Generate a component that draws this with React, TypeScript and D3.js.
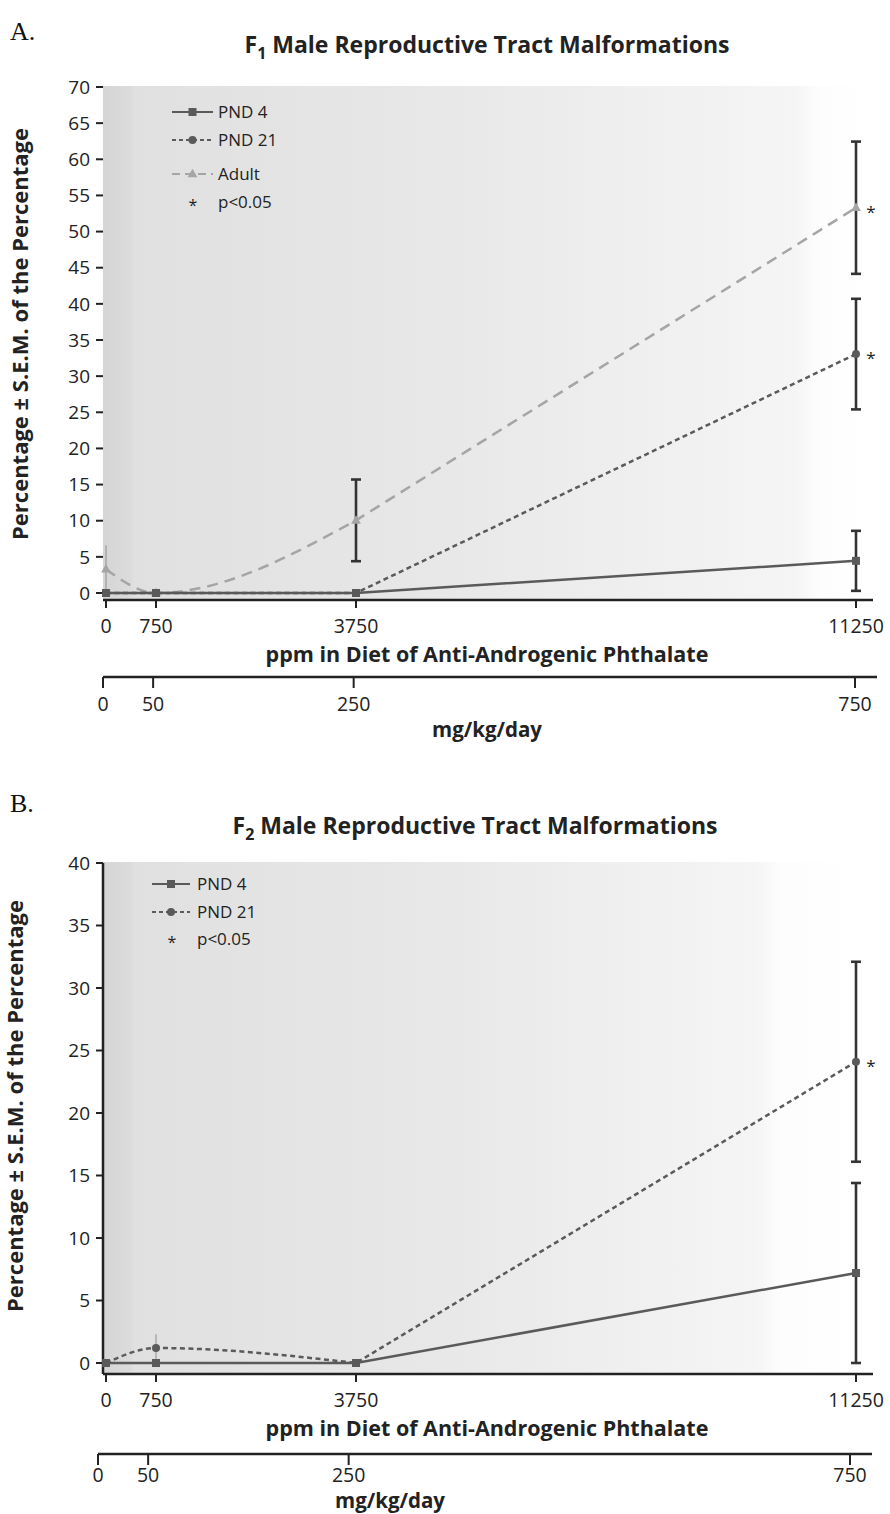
import React from "react"
import * as d3 from "d3"

// doses shared by both panels
const doses = [0, 750, 3750, 11250]
const doseLabels = ["0", "750", "3750", "11250"]
const mgDoses = [0, 50, 250, 750]
const mgLabels = ["0", "50", "250", "750"]

const f1Ticks = [0, 5, 10, 15, 20, 25, 30, 35, 40, 45, 50, 55, 60, 65, 70]
const f2Ticks = [0, 5, 10, 15, 20, 25, 30, 35, 40]

// F1 generation (percent, S.E.M.)
const f1Pnd4 = [0, 0, 0, 4.45]
const f1Pnd4Sem = [0, 0, 0, 4.15]
const f1Pnd4Sig = [false, false, false, false]
const f1Pnd21 = [0, 0, 0, 33.05]
const f1Pnd21Sem = [0, 0, 0, 7.65]
const f1Pnd21Sig = [false, false, false, true]
const f1Adult = [3.3, 0, 10.05, 53.3]
const f1AdultSem = [3.3, 0, 5.65, 9.15]
const f1AdultSig = [false, false, false, true]

// F2 generation
const f2Pnd4 = [0, 0, 0, 7.2]
const f2Pnd4Sem = [0, 0, 0, 7.2]
const f2Pnd4Sig = [false, false, false, false]
const f2Pnd21 = [0, 1.2, 0, 24.1]
const f2Pnd21Sem = [0, 1.1, 0, 8.0]
const f2Pnd21Sig = [false, false, false, true]

const FONT = "'Open Sans', 'Noto Sans', sans-serif"
const DARK = "#5a5a5a"
const LIGHT = "#a5a5a5"

type Kind = "pnd4" | "pnd21" | "adult"
type Series = {
  name: string
  kind: Kind
  values: number[]
  sem: number[]
  sig: boolean[]
  smooth: boolean
}

const look = {
  pnd4: { stroke: DARK, dash: undefined as string | undefined },
  pnd21: { stroke: DARK, dash: "5 3.5" },
  adult: { stroke: LIGHT, dash: "11 7" },
}

const Marker = ({ kind, cx, cy }: { kind: Kind; cx: number; cy: number }) => {
  if (kind === "pnd4")
    return <rect x={cx - 4} y={cy - 4} width={8} height={8} fill={DARK} />
  if (kind === "pnd21") return <circle cx={cx} cy={cy} r={4} fill={DARK} />
  const tri = d3.symbol(d3.symbolTriangle, 42)()
  return <path d={tri} transform={`translate(${cx},${cy + 0.5})`} fill={LIGHT} />
}

type PanelProps = {
  letter: string
  letterY: number
  sub: string
  titleX: number
  titleY: number
  yMax: number
  ticks: number[]
  yTop: number
  y0: number
  axisY: number
  tickLabelY: number
  xTitleY: number
  axis2Y: number
  tick2LabelY: number
  mgTitleX: number
  mgTitleY: number
  mgLeft: number
  mgRight: number
  yLabelX: number
  yLabelY: number
  yAxisLine: boolean
  gradEnd: number
  series: Series[]
  legend: { x0: number; x1: number; tx: number; ys: number[]; starX: number; starY: number }
  id: string
}

const Panel = (p: PanelProps) => {
  const x = d3.scaleLinear().domain([0, 11250]).range([106, 856])
  const xMg = d3.scaleLinear().domain([0, 750]).range([p.mgLeft, p.mgRight])
  const y = d3.scaleLinear().domain([0, p.yMax]).range([p.y0, p.yTop])
  const left = 103
  const right = 873

  // smoothed low-dose part (like the spreadsheet's smoothed line), straight to the top dose
  const pathFor = (s: Series) => {
    const pts: [number, number][] = s.values.map((v, i) => [x(doses[i]), y(v)])
    if (!s.smooth) return d3.line()(pts) || ""
    const head = d3.line().curve(d3.curveMonotoneX)(pts.slice(0, 3)) || ""
    const last = pts[pts.length - 1]
    return `${head}L${last[0]},${last[1]}`
  }

  return (
    <g>
      <defs>
        <linearGradient id={p.id} x1={left} x2={right} y1={0} y2={0} gradientUnits="userSpaceOnUse">
          <stop offset={0} stopColor="#d5d5d5" />
          <stop offset={0.035} stopColor="#dbdbdb" />
          <stop offset={0.04} stopColor="#e0e0e0" />
          <stop offset={0.45} stopColor="#e8e8e8" />
          <stop offset={p.gradEnd - 0.03} stopColor="#f5f5f5" />
          <stop offset={p.gradEnd} stopColor="#fdfdfd" />
          <stop offset={1} stopColor="#ffffff" />
        </linearGradient>
      </defs>
      <text x={10} y={p.letterY} fontFamily="'Liberation Serif', serif" fontSize={26} fill="#111">
        {p.letter}
      </text>
      <text x={p.titleX} y={p.titleY} textAnchor="middle" fontFamily={FONT} fontWeight={700} fontSize={23} fill="#222">
        F<tspan fontSize={16} dy={6}>{p.sub}</tspan>
        <tspan dy={-6}> Male Reproductive Tract Malformations</tspan>
      </text>

      <rect x={left} y={p.yTop - 1} width={right - left} height={p.axisY - p.yTop + 1} fill={`url(#${p.id})`} />

      {/* y axis */}
      {p.yAxisLine && (
        <line x1={left} x2={left} y1={p.yTop} y2={p.axisY} stroke="#222" strokeWidth={2.5} />
      )}
      {p.ticks.map((t) => (
        <g key={t}>
          <line x1={96} x2={left} y1={y(t)} y2={y(t)} stroke="#222" strokeWidth={2} />
          <text x={90} y={y(t)} dy="0.35em" textAnchor="end" fontFamily={FONT} fontSize={19} fill="#222">
            {t}
          </text>
        </g>
      ))}
      <text
        transform={`translate(${p.yLabelX},${p.yLabelY}) rotate(-90)`}
        textAnchor="middle"
        fontFamily={FONT}
        fontWeight={700}
        fontSize={22}
        fill="#222"
      >
        Percentage ± S.E.M. of the Percentage
      </text>

      {/* ppm axis */}
      <line x1={left} x2={right} y1={p.axisY} y2={p.axisY} stroke="#222" strokeWidth={2.5} />
      {doses.map((d, i) => (
        <g key={d}>
          <line x1={x(d)} x2={x(d)} y1={p.axisY} y2={p.axisY + 8} stroke="#222" strokeWidth={2} />
          <text x={x(d)} y={p.tickLabelY} textAnchor="middle" fontFamily={FONT} fontSize={19.5} fill="#222">
            {doseLabels[i]}
          </text>
        </g>
      ))}
      <text x={487} y={p.xTitleY} textAnchor="middle" fontFamily={FONT} fontWeight={700} fontSize={21.5} fill="#222">
        ppm in Diet of Anti-Androgenic Phthalate
      </text>

      {/* mg/kg/day axis */}
      <line x1={p.mgLeft} x2={p.mgRight + 22} y1={p.axis2Y} y2={p.axis2Y} stroke="#222" strokeWidth={2.5} />
      {mgDoses.map((d, i) => (
        <g key={d}>
          <line x1={xMg(d)} x2={xMg(d)} y1={p.axis2Y} y2={p.axis2Y + 11} stroke="#222" strokeWidth={2} />
          <text x={xMg(d)} y={p.tick2LabelY} textAnchor="middle" fontFamily={FONT} fontSize={19.5} fill="#222">
            {mgLabels[i]}
          </text>
        </g>
      ))}
      <text x={p.mgTitleX} y={p.mgTitleY} textAnchor="middle" fontFamily={FONT} fontWeight={700} fontSize={20.5} fill="#222">
        mg/kg/day
      </text>

      {/* error bars */}
      {p.series.map((s) =>
        s.values.map((v, i) => {
          if (!s.sem[i]) return null
          const cx = x(doses[i])
          const hi = y(v + s.sem[i])
          const lo = y(Math.max(0, v - s.sem[i]))
          const faint = i < 2
          return (
            <g key={s.name + i}>
              <line x1={cx} x2={cx} y1={hi} y2={lo} stroke={faint ? "#9a9a9a" : "#333"} strokeWidth={faint ? 1.2 : 2.6} />
              {!faint && (
                <>
                  <line x1={cx - 5} x2={cx + 5} y1={hi} y2={hi} stroke="#333" strokeWidth={2.6} />
                  <line x1={cx - 5} x2={cx + 5} y1={lo} y2={lo} stroke="#333" strokeWidth={2.6} />
                </>
              )}
            </g>
          )
        })
      )}

      {/* lines */}
      {p.series
        .slice()
        .reverse()
        .map((s) => (
          <path
            key={s.name}
            d={pathFor(s)}
            fill="none"
            stroke={look[s.kind].stroke}
            strokeWidth={2.5}
            strokeDasharray={look[s.kind].dash}
          />
        ))}
      {p.series
        .slice()
        .reverse()
        .map((s) =>
          s.values.map((v, i) => (
            <g key={s.name + "m" + i}>
              <Marker kind={s.kind} cx={x(doses[i])} cy={y(v)} />
              {s.sig[i] && (
                <text x={x(doses[i]) + 15} y={y(v) + 10} textAnchor="middle" fontFamily={FONT} fontSize={17} fill="#222">
                  *
                </text>
              )}
            </g>
          ))
        )}

      {/* legend */}
      {p.series.map((s, i) => {
        const ly = p.legend.ys[i]
        return (
          <g key={s.name + "leg"}>
            <line
              x1={p.legend.x0}
              x2={p.legend.x1}
              y1={ly}
              y2={ly}
              stroke={look[s.kind].stroke}
              strokeWidth={2}
              strokeDasharray={look[s.kind].dash ? (s.kind === "adult" ? "8 5" : "4 3") : undefined}
            />
            <Marker kind={s.kind} cx={(p.legend.x0 + p.legend.x1) / 2} cy={ly} />
            <text x={p.legend.tx} y={ly} dy="0.35em" fontFamily={FONT} fontSize={17} fill="#222">
              {s.name}
            </text>
          </g>
        )
      })}
      <text x={p.legend.starX} y={p.legend.starY + 9} textAnchor="middle" fontFamily={FONT} fontSize={16} fill="#222">
        *
      </text>
      <text x={p.legend.tx} y={p.legend.starY} dy="0.35em" fontFamily={FONT} fontSize={17} fill="#222">
        p&lt;0.05
      </text>
    </g>
  )
}

export default function App() {
  const f1: Series[] = [
    { name: "PND 4", kind: "pnd4", values: f1Pnd4, sem: f1Pnd4Sem, sig: f1Pnd4Sig, smooth: false },
    { name: "PND 21", kind: "pnd21", values: f1Pnd21, sem: f1Pnd21Sem, sig: f1Pnd21Sig, smooth: false },
    { name: "Adult", kind: "adult", values: f1Adult, sem: f1AdultSem, sig: f1AdultSig, smooth: true },
  ]
  const f2: Series[] = [
    { name: "PND 4", kind: "pnd4", values: f2Pnd4, sem: f2Pnd4Sem, sig: f2Pnd4Sig, smooth: false },
    { name: "PND 21", kind: "pnd21", values: f2Pnd21, sem: f2Pnd21Sem, sig: f2Pnd21Sig, smooth: true },
  ]

  return (
    <svg width={890} height={1514} style={{ position: "absolute", left: 0, top: 0, background: "#fff" }}>
      <Panel
        id="gA"
        letter="A."
        letterY={40}
        sub="1"
        titleX={487}
        titleY={53}
        yMax={70}
        ticks={f1Ticks}
        yTop={87}
        y0={593}
        axisY={600}
        tickLabelY={633}
        xTitleY={662}
        axis2Y={677}
        tick2LabelY={711}
        mgTitleX={487}
        mgTitleY={737}
        mgLeft={103}
        mgRight={855}
        yLabelX={28}
        yLabelY={334}
        yAxisLine={false}
        gradEnd={0.93}
        series={f1}
        legend={{ x0: 172, x1: 213, tx: 218, ys: [112, 140, 174], starX: 193, starY: 202 }}
      />
      <Panel
        id="gB"
        letter="B."
        letterY={812}
        sub="2"
        titleX={475}
        titleY={834}
        yMax={40}
        ticks={f2Ticks}
        yTop={863}
        y0={1363}
        axisY={1374}
        tickLabelY={1407}
        xTitleY={1436}
        axis2Y={1454}
        tick2LabelY={1482}
        mgTitleX={390}
        mgTitleY={1508}
        mgLeft={98}
        mgRight={850}
        yLabelX={23}
        yLabelY={1106}
        yAxisLine={true}
        gradEnd={0.88}
        series={f2}
        legend={{ x0: 152, x1: 190, tx: 197, ys: [884, 912], starX: 172, starY: 939 }}
      />
    </svg>
  )
}
